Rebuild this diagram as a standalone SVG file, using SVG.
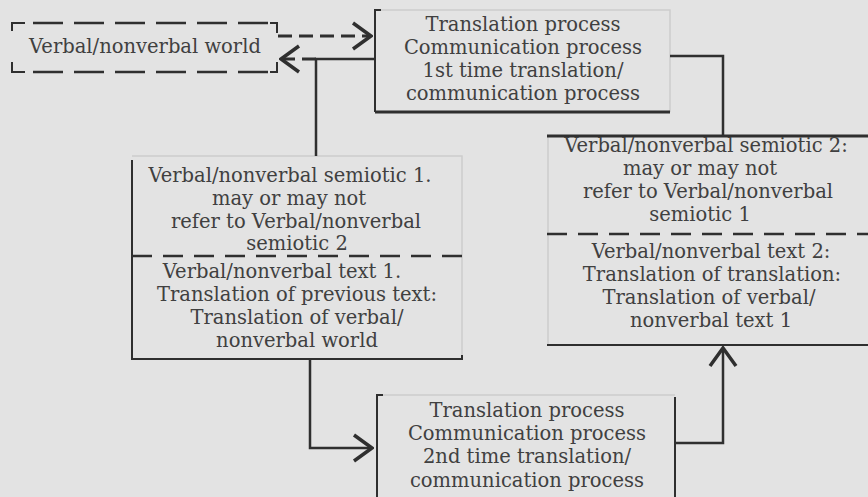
<svg xmlns="http://www.w3.org/2000/svg" width="868" height="497" viewBox="0 0 868 497">
<style>
  text { font-family: "DejaVu Serif", "Liberation Serif", serif; font-size: 19.5px; fill: #404040; text-anchor: middle; }
  .ln { stroke: #2f2f2f; stroke-width: 2; fill: none; }
  .thick { stroke: #2f2f2f; stroke-width: 3; fill: none; }
  .faint { stroke: #cdcdcd; stroke-width: 1.5; fill: none; }
  .dash { stroke: #2f2f2f; stroke-width: 2.5; fill: none; stroke-dasharray: 30 11; }
  .div { stroke: #2f2f2f; stroke-width: 2.5; fill: none; stroke-dasharray: 20 11; }
  .conn { stroke: #2f2f2f; stroke-width: 2.5; fill: none; }
  .conndash { stroke: #2f2f2f; stroke-width: 3; fill: none; stroke-dasharray: 14 7; }
</style>
<defs>
  <marker id="chev" viewBox="0 0 22 30" refX="20" refY="15" markerWidth="22" markerHeight="30" markerUnits="userSpaceOnUse" orient="auto">
    <path d="M2,2 L20,15 L2,28" fill="none" stroke="#2f2f2f" stroke-width="3.5" stroke-dasharray="none"/>
  </marker>
</defs>
<rect x="0" y="0" width="868" height="497" fill="#e3e3e3"/>

<g id="world">
  <path class="ln" d="M12,31 V23 H25"/>
  <path class="dash" d="M33,23 H268"/>
  <path class="ln" d="M270,23 H277 V33"/>
  <path class="ln" d="M12,62 V72 H25"/>
  <path class="dash" d="M33,72 H268"/>
  <path class="ln" d="M270,72 H277 V62"/>
  <text x="145" y="53">Verbal/nonverbal world</text>
</g>

<g id="process1">
  <path class="faint" d="M378,10 H670 V112"/>
  <path class="ln" d="M381,10 H375 V112"/>
  <path class="thick" d="M375,112 H670"/>
  <text x="523" y="31">Translation process</text>
  <text x="523" y="54">Communication process</text>
  <text x="523" y="77">1st time translation/</text>
  <text x="523" y="100">communication process</text>
</g>

<g id="semiotic1">
  <path class="faint" d="M132,156 H462 V358"/>
  <path class="ln" d="M132,160 V359 H462 V355"/>
  <path class="div" d="M132,256 H462"/>
  <text x="290" y="182">Verbal/nonverbal semiotic 1.</text>
  <text x="289" y="205">may or may not</text>
  <text x="296" y="228">refer to Verbal/nonverbal</text>
  <text x="297" y="250">semiotic 2</text>
  <text x="282" y="278">Verbal/nonverbal text 1.</text>
  <text x="297" y="301">Translation of previous text:</text>
  <text x="297" y="324">Translation of verbal/</text>
  <text x="297" y="347">nonverbal world</text>
</g>

<g id="semiotic2">
  <path class="faint" d="M548,136 V345"/>
  <path class="thick" d="M547,136 H868"/>
  <path class="div" d="M547,234 H868"/>
  <path class="ln" d="M547,345 H868"/>
  <text x="706" y="152">Verbal/nonverbal semiotic 2:</text>
  <text x="700" y="175">may or may not</text>
  <text x="708" y="198">refer to Verbal/nonverbal</text>
  <text x="700" y="221">semiotic 1</text>
  <text x="711" y="258">Verbal/nonverbal text 2:</text>
  <text x="712" y="281">Translation of translation:</text>
  <text x="709" y="304">Translation of verbal/</text>
  <text x="711" y="327">nonverbal text 1</text>
</g>

<g id="process2">
  <path class="faint" d="M382,395 H675"/>
  <path class="ln" d="M383,395 H377 V497"/>
  <path class="ln" d="M675,397 V497"/>
  <text x="527" y="417">Translation process</text>
  <text x="527" y="440">Communication process</text>
  <text x="527" y="463">2nd time translation/</text>
  <text x="527" y="487">communication process</text>
</g>

<g id="connectors">
  <path class="conndash" d="M278,36 H371" marker-end="url(#chev)"/>
  <path class="conn" d="M316,156 V59 H375"/>
  <path class="conndash" d="M316,59 H281" marker-end="url(#chev)"/>
  <path class="conn" d="M670,56 H723 V136"/>
  <path class="conn" d="M310,359 V448 H372" marker-end="url(#chev)"/>
  <path class="conn" d="M675,443 H723 V348" marker-end="url(#chev)"/>
</g>
</svg>
